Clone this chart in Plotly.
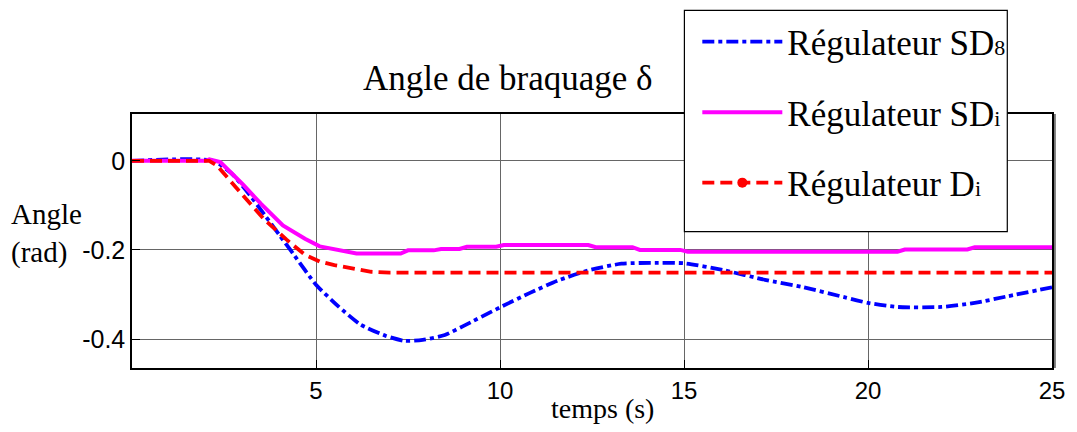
import plotly.graph_objects as go

# ---- data ----
t_sd8 = [0, 2.2, 2.7, 3.1, 3.6, 4.0, 4.4, 5.0, 5.6, 6.2, 6.9, 7.4, 7.9, 8.5, 9.0, 10.0,
         10.8, 11.6, 12.4, 13.3, 14.3, 15.0, 16.1, 17.2, 18.2, 19.4, 20.0, 20.8, 22.0,
         22.9, 23.8, 25.0]
v_sd8 = [0, 0, -0.028, -0.066, -0.121, -0.166, -0.211, -0.278, -0.326, -0.367, -0.393,
         -0.404, -0.402, -0.391, -0.371, -0.329, -0.297, -0.268, -0.246, -0.231, -0.229,
         -0.230, -0.246, -0.267, -0.283, -0.307, -0.319, -0.328, -0.328, -0.319, -0.304,
         -0.284]

t_sdi = [0, 2.0, 2.1, 2.4, 3.0, 3.5, 4.1, 4.7, 5.1, 5.6, 6.1, 7.3, 7.5, 8.2, 8.4, 8.9,
         9.1, 9.9, 10.1, 12.4, 12.6, 13.6, 13.8, 14.9, 15.1, 20.8, 21.0, 22.7, 22.9, 25.0]
v_sdi = [0, 0, 0.003, -0.003, -0.052, -0.096, -0.145, -0.175, -0.192, -0.201, -0.208,
         -0.208, -0.201, -0.201, -0.198, -0.198, -0.193, -0.193, -0.189, -0.189, -0.194,
         -0.194, -0.200, -0.200, -0.204, -0.204, -0.199, -0.199, -0.194, -0.194]

t_di = [0, 2.1, 2.3, 2.5, 3.0, 3.6, 4.2, 4.7, 5.1, 5.5, 6.0, 6.5, 7.0, 25.0]
v_di = [0, 0, -0.010, -0.028, -0.076, -0.132, -0.177, -0.211, -0.226, -0.234, -0.241,
        -0.249, -0.251, -0.251]

x_ticks = [5, 10, 15, 20, 25]
y_ticks = [0, -0.2, -0.4]
y_ticktext = ["0", "-0.2", "-0.4"]

SERIF = "Liberation Serif"
SANS = "Liberation Sans, Arial"
sub = lambda s: '<span style="font-size:22px">%s</span>' % s

fig = go.Figure()
fig.add_trace(go.Scatter(x=t_sd8, y=v_sd8, mode="lines", name="Régulateur SD" + sub("8"),
                         line=dict(color="#0000ff", width=3.8, dash="12px,4px,4px,4px",
                                   shape="spline", smoothing=0.6),
                         legendgroup="a"))
fig.add_trace(go.Scatter(x=t_sdi, y=v_sdi, mode="lines", name="Régulateur SD" + sub("i"),
                         line=dict(color="#ff00ff", width=4), legendgroup="b"))
fig.add_trace(go.Scatter(x=t_di, y=v_di, mode="lines", name="Régulateur D" + sub("i"),
                         line=dict(color="#ff0000", width=3.8, dash="12px,6px"),
                         showlegend=False, legendgroup="c"))
fig.add_trace(go.Scatter(x=[None], y=[None], mode="lines+markers", name="Régulateur D" + sub("i"),
                         line=dict(color="#ff0000", width=3.8, dash="12px,6px"),
                         marker=dict(color="#ff0000", size=10), legendgroup="c"))

axis_common = dict(showgrid=True, gridcolor="#666666", gridwidth=1, showline=True,
                   linecolor="black", linewidth=1.5, mirror=True, ticks="inside",
                   ticklen=8, tickcolor="black", zeroline=False)

L, T, PW, PH = 132, 113, 926, 255
px = lambda v: (v - L) / PW
py = lambda v: (T + PH - v) / PH

fig.update_layout(
    width=1077, height=432,
    margin=dict(l=L, r=1077 - L - PW, t=T, b=432 - T - PH),
    paper_bgcolor="white", plot_bgcolor="white",
    xaxis=dict(range=[0, 25], tickvals=x_ticks,
               tickfont=dict(family=SANS, size=24, color="black"), **axis_common),
    yaxis=dict(range=[-0.465, 0.105], tickvals=y_ticks, ticktext=y_ticktext,
               tickfont=dict(family=SANS, size=25, color="black"), **axis_common),
    legend=dict(x=px(701), y=py(11), xanchor="left", yanchor="top",
                bgcolor="rgba(0,0,0,0)", borderwidth=0,
                font=dict(family=SERIF, size=35, color="black"),
                itemwidth=80, tracegroupgap=22, traceorder="grouped"),
    showlegend=True,
    annotations=[
        dict(text="Angle de braquage δ", xref="paper", yref="paper", x=px(510), y=py(77),
             xanchor="center", yanchor="middle", showarrow=False,
             font=dict(family=SERIF, size=35, color="black")),
        dict(text="temps (s)", xref="paper", yref="paper", x=px(606), y=py(409),
             xanchor="center", yanchor="middle", showarrow=False,
             font=dict(family=SERIF, size=28, color="black")),
        dict(text="Angle<br>(rad)", xref="paper", yref="paper", x=px(8), y=py(233),
             xanchor="left", yanchor="middle", align="left", showarrow=False,
             font=dict(family=SERIF, size=29, color="black")),
    ],
    shapes=[
        dict(type="line", xref="paper", yref="paper", x0=px(1061), x1=px(1061), y0=0, y1=1,
             line=dict(color="black", width=1)),
        dict(type="rect", xref="paper", yref="paper", x0=px(688), x1=px(1013),
             y0=py(231), y1=py(9), fillcolor="white", layer="above",
             line=dict(color="black", width=1.2)),
    ],
)

fig.write_html("out.html", config={"displayModeBar": False},
               post_script="document.body.style.margin='0';")
